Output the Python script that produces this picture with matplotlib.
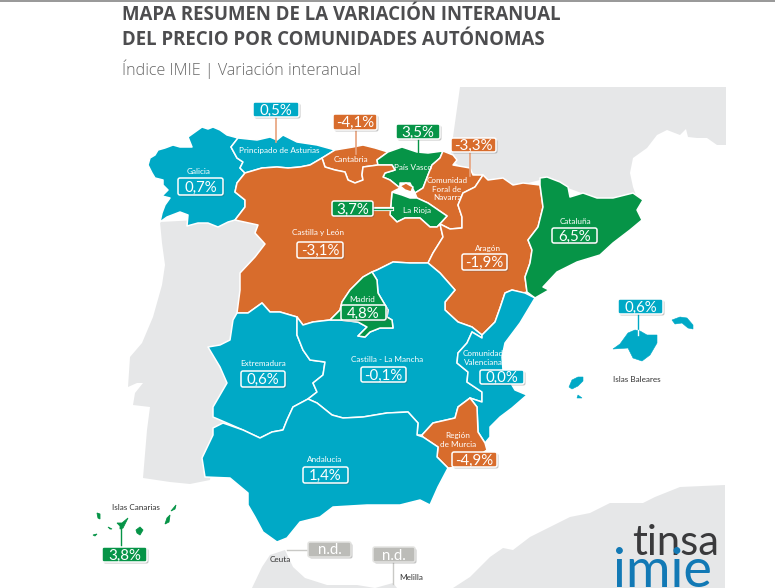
"""
Mapa resumen de la variacion interanual del precio por comunidades autonomas.
Outlines are read off the picture, in image pixels.
"""
import matplotlib
matplotlib.use("Agg")
import matplotlib.pyplot as plt
from matplotlib.patches import FancyBboxPatch, Polygon, Rectangle

# Values per region (None = n.d.)
REGIONS = ["Galicia", "Principado de Asturias", "Cantabria", "País Vasco",
           "Comunidad Foral de Navarra", "La Rioja", "Castilla y León", "Aragón",
           "Cataluña", "Madrid", "Extremadura", "Castilla - La Mancha",
           "Comunidad Valenciana", "Región de Murcia", "Andalucía",
           "Islas Baleares", "Islas Canarias", "Ceuta", "Melilla"]
VALUES = [0.7, 0.5, -4.1, 3.5, -3.3, 3.7, -3.1, -1.9, 6.5, 4.8, 0.6, -0.1,
          0.0, -4.9, 1.4, 0.6, 3.8, None, None]

# Neighbouring land
FRANCE = [(460, 87), (726, 87), (726, 145), (717, 145), (707, 138), (697, 138), (688, 137),
          (686, 129), (680, 135), (667, 130), (657, 135), (647, 148), (633, 158), (630, 173),
          (633, 187), (637, 198), (600, 200), (560, 185), (540, 180), (520, 185), (490, 180),
          (470, 172), (450, 160), (453, 137)]
PORTUGAL = [(160, 222), (162, 243), (165, 265), (162, 285), (153, 317), (142, 343), (130, 357),
            (128, 387), (137, 383), (143, 383), (135, 393), (133, 405), (150, 407), (147, 430),
            (143, 478), (170, 482), (190, 484), (210, 480), (215, 440), (240, 400), (240, 300),
            (265, 244), (258, 225), (235, 218)]
AFRICA = [(252, 588), (262, 567), (270, 555), (285, 550), (293, 567), (305, 578), (327, 585),
          (357, 585), (375, 588), (393, 583), (397, 588), (453, 588), (470, 577), (490, 557),
          (503, 548), (513, 550), (530, 537), (550, 527), (570, 517), (590, 513), (610, 503),
          (643, 503), (655, 497), (680, 487), (725, 485), (725, 588)]

# Region outlines
GALICIA = [(148, 165), (150, 158), (155, 155), (158, 150), (165, 148), (173, 145), (180, 147),
           (192, 147), (188, 137), (195, 132), (202, 127), (208, 129), (213, 127), (220, 130),
           (227, 135), (238, 138), (231, 147), (237, 158), (243, 162), (240, 168),
           (245, 173), (237, 183), (235, 192), (245, 200), (245, 207), (235, 220), (228, 222),
           (218, 227), (208, 223), (198, 223), (187, 226), (188, 215), (180, 212), (167, 217),
           (160, 222), (162, 213), (165, 205), (170, 198), (162, 196), (168, 190), (163, 185),
           (163, 180), (155, 178), (152, 173)]
ASTURIAS = [(238, 138), (257, 140), (270, 137), (277, 140), (283, 135), (297, 142), (317, 145),
            (335, 150), (322, 158), (310, 165), (300, 167), (288, 168), (277, 167), (262, 168),
            (245, 173), (240, 168), (243, 162), (237, 158), (231, 147)]
CANTABRIA = [(322, 158), (335, 150), (353, 147), (363, 145), (375, 148), (388, 152), (377, 160),
             (378, 165), (363, 167), (362, 175), (363, 180), (355, 183), (348, 180), (345, 172),
             (335, 170), (325, 167)]
PAIS_VASCO = [(377, 160), (388, 152), (402, 147), (417, 152), (428, 153), (443, 151), (440, 158),
              (432, 165), (428, 175), (423, 188), (415, 193), (410, 183), (400, 183), (400, 188),
              (390, 180), (383, 177), (385, 173), (395, 170), (392, 165), (378, 165)]
TREVINO = [(400, 186), (406, 183), (413, 187), (411, 192), (405, 190)]
LA_RIOJA = [(392, 192), (402, 195), (410, 198), (417, 198), (428, 203), (447, 216), (437, 227),
            (430, 227), (420, 218), (405, 218), (397, 222), (390, 215)]
NAVARRA = [(443, 151), (453, 155), (457, 160), (453, 165), (470, 168), (473, 175), (483, 175),
           (475, 187), (463, 193), (458, 205), (462, 217), (462, 228), (450, 229), (440, 224),
           (437, 227), (447, 216), (428, 203), (417, 198), (415, 193), (423, 188), (428, 175),
           (432, 165), (440, 158)]
CASTILLA_LEON = [(245, 173), (262, 168), (277, 167), (288, 168), (300, 167), (310, 165), (322, 158),
                 (325, 167), (335, 170), (345, 172), (348, 180), (355, 183), (363, 180), (362, 175),
                 (363, 167), (378, 165), (392, 165), (395, 170), (385, 173), (383, 177), (390, 180),
                 (400, 188), (392, 192), (390, 215), (397, 222), (405, 218), (420, 218), (430, 227),
                 (437, 227), (440, 224), (443, 237), (433, 253), (428, 263), (410, 263), (393, 262),
                 (377, 270), (372, 272), (363, 277), (350, 290), (342, 302), (340, 310), (330, 320),
                 (313, 322), (303, 325), (297, 317), (280, 312), (270, 312), (262, 303), (248, 313),
                 (237, 313), (240, 290), (240, 273), (255, 257), (265, 244), (255, 233), (258, 225),
                 (235, 220), (245, 207), (245, 200), (235, 192), (237, 183)]
ARAGON = [(483, 175), (488, 180), (503, 178), (513, 185), (523, 183), (540, 185), (543, 207),
          (538, 227), (528, 240), (532, 250), (530, 263), (525, 277), (527, 292), (523, 293),
          (512, 290), (505, 293), (500, 308), (495, 322), (482, 335), (472, 327), (458, 322),
          (445, 310), (445, 302), (455, 290), (440, 273), (428, 263), (433, 253), (443, 237),
          (440, 224), (450, 229), (462, 228), (462, 217), (458, 205), (463, 193), (475, 187)]
CATALUNA = [(540, 178), (547, 177), (560, 182), (568, 187), (570, 197), (583, 193), (597, 198),
            (613, 198), (633, 193), (643, 200), (637, 210), (642, 220), (630, 230), (613, 243),
            (600, 255), (577, 262), (557, 272), (543, 287), (549, 290), (535, 298), (527, 292),
            (525, 277), (530, 263), (532, 250), (528, 240), (538, 227), (543, 207), (540, 185)]
MADRID = [(372, 272), (377, 280), (378, 293), (388, 310), (387, 317), (392, 320), (393, 328),
          (380, 328), (370, 332), (365, 337), (358, 336), (367, 327), (358, 322), (340, 320),
          (330, 320), (340, 310), (342, 302), (350, 290), (363, 277)]
EXTREMADURA = [(237, 313), (248, 313), (262, 303), (270, 312), (280, 312), (297, 317), (297, 335),
               (303, 350), (310, 360), (325, 362), (323, 375), (313, 383), (317, 392), (308, 399),
               (293, 407), (287, 420), (283, 430), (272, 432), (260, 438), (243, 430), (227, 423),
               (213, 417), (213, 407), (227, 383), (220, 367), (208, 347), (220, 345), (230, 340),
               (233, 320)]
CASTILLA_MANCHA = [(297, 317), (303, 325), (313, 322), (330, 320), (340, 320), (358, 322), (367, 327),
                   (358, 336), (365, 337), (370, 332), (380, 328), (393, 328), (392, 320), (387, 317),
                   (388, 310), (378, 293), (377, 280), (372, 272), (377, 270), (393, 262), (410, 263),
                   (428, 263), (440, 273), (455, 290), (445, 302), (445, 310), (458, 322), (472, 327),
                   (482, 335), (482, 338), (472, 332), (467, 343), (458, 353), (457, 363), (468, 372),
                   (467, 382), (482, 392), (482, 402), (470, 398), (458, 407), (455, 418), (433, 423),
                   (422, 435), (417, 435), (418, 423), (408, 412), (387, 413), (363, 417), (343, 418),
                   (332, 415), (317, 403), (308, 399), (317, 392), (313, 383), (323, 375), (325, 362),
                   (310, 360), (303, 350), (297, 335)]
VALENCIA = [(482, 335), (495, 322), (500, 308), (505, 293), (512, 290), (525, 293), (535, 298),
            (520, 323), (505, 343), (502, 357), (503, 370), (515, 390), (527, 395), (512, 408),
            (500, 417), (490, 427), (490, 437), (485, 443), (478, 432), (477, 407), (470, 398),
            (482, 402), (482, 392), (467, 382), (468, 372), (457, 363), (458, 353), (467, 343),
            (472, 332), (482, 338)]
MURCIA = [(470, 398), (458, 407), (455, 418), (433, 423), (422, 435), (423, 437), (438, 447),
          (437, 457), (448, 468), (462, 467), (487, 450), (485, 443), (478, 432), (477, 407)]
ANDALUCIA = [(308, 399), (317, 403), (332, 415), (343, 418), (363, 417), (387, 413), (408, 412),
             (418, 423), (417, 435), (423, 437), (438, 447), (437, 457), (448, 468), (438, 487),
             (430, 505), (420, 500), (400, 505), (367, 505), (333, 507), (320, 517), (300, 522),
             (287, 538), (277, 542), (263, 532), (255, 517), (248, 505), (248, 493), (230, 478),
             (205, 477), (202, 458), (213, 435), (213, 428), (223, 423), (243, 430), (260, 438),
             (272, 432), (283, 430), (287, 420), (293, 407)]
MALLORCA = [(613, 349), (620, 344), (628, 333), (635, 330), (640, 331), (647, 335), (657, 335),
            (657, 343), (650, 355), (642, 361), (633, 358), (628, 348)]
MENORCA = [(672, 320), (680, 317), (687, 318), (693, 325), (693, 329), (688, 328), (682, 323), (675, 324)]
IBIZA = [(569, 387), (572, 380), (578, 377), (583, 377), (583, 381), (578, 386), (572, 389)]
FORMENTERA = [(577, 398), (578, 395), (582, 398)]
LA_PALMA = [(97, 513), (100, 514), (100, 519), (98, 518)]
EL_HIERRO = [(93, 535), (97, 534), (95, 536)]
LA_GOMERA = [(108, 527), (112, 529), (110, 529)]
TENERIFE = [(117, 523), (122, 523), (128, 518), (125, 524), (123, 528), (120, 529), (120, 526)]
GRAN_CANARIA = [(136, 530), (140, 527), (143, 530), (140, 535), (137, 533)]
FUERTEVENTURA = [(165, 524), (167, 518), (170, 515), (169, 522)]
LANZAROTE = [(171, 511), (176, 505), (175, 509)]

TEAL = "#00A9C6"
ORANGE = "#D86C2C"
GREEN = "#069447"
GREY_BOX = "#BCBCB8"
LAND = "#E6E7E8"


def region_color(value):
    if value is None:
        return GREY_BOX
    if value >= 3:
        return GREEN
    if value >= -1:
        return TEAL
    return ORANGE


def fmt(value):
    if value is None:
        return "n.d."
    return f"{value:.1f}%".replace(".", ",")


def value_box(ax, name, x0, y0, x1, y1, edge="white"):
    value = VALUES[REGIONS.index(name)]
    color = region_color(value)
    pad = 2
    shadow = FancyBboxPatch((x0 + pad + 1.5, y0 + pad + 1.5), x1 - x0 - 2 * pad, y1 - y0 - 2 * pad,
                            boxstyle=f"round,pad={pad}", fc="#555555", ec="none", alpha=0.35, zorder=6)
    ax.add_patch(shadow)
    box = FancyBboxPatch((x0 + pad, y0 + pad), x1 - x0 - 2 * pad, y1 - y0 - 2 * pad,
                         boxstyle=f"round,pad={pad}", fc=color, ec=edge, lw=1.1, zorder=7)
    ax.add_patch(box)
    ax.text((x0 + x1) / 2, (y0 + y1) / 2 + 5, fmt(value), color="white", fontsize=10.8,
            family="Lato", ha="center", va="baseline", zorder=8)


def small_label(ax, x, y, text, color="white"):
    ax.text(x, y, text, color=color, fontsize=5.9, family="Lato", ha="center", va="center",
            linespacing=1.2, zorder=5)


plt.rcParams["font.family"] = ["Open Sans", "DejaVu Sans"]
fig = plt.figure(figsize=(7.75, 5.88), dpi=100)
ax = fig.add_axes([0, 0, 1, 1])
ax.set_xlim(0, 775)
ax.set_ylim(588, 0)
ax.axis("off")

# top strip of the page
ax.add_patch(Rectangle((0, 0), 775, 2, fc="#9A9A9A", ec="none"))

for land in [FRANCE, PORTUGAL, AFRICA]:
    ax.add_patch(Polygon(land, closed=True, fc=LAND, ec="none", zorder=1))

outlines = {
    "Galicia": [GALICIA], "Principado de Asturias": [ASTURIAS], "Cantabria": [CANTABRIA],
    "País Vasco": [PAIS_VASCO], "Comunidad Foral de Navarra": [NAVARRA], "La Rioja": [LA_RIOJA],
    "Castilla y León": [CASTILLA_LEON, TREVINO], "Aragón": [ARAGON], "Cataluña": [CATALUNA],
    "Extremadura": [EXTREMADURA], "Castilla - La Mancha": [CASTILLA_MANCHA],
    "Madrid": [MADRID], "Comunidad Valenciana": [VALENCIA], "Región de Murcia": [MURCIA],
    "Andalucía": [ANDALUCIA],
}
for name, shapes in outlines.items():
    color = region_color(VALUES[REGIONS.index(name)])
    for shape in shapes:
        ax.add_patch(Polygon(shape, closed=True, fc=color, ec="white", lw=1.1, joinstyle="round", zorder=3))

for island in [MALLORCA, MENORCA, IBIZA, FORMENTERA]:
    ax.add_patch(Polygon(island, closed=True, fc=TEAL, ec=TEAL, lw=0.4, zorder=3))
for island in [LA_PALMA, EL_HIERRO, LA_GOMERA, TENERIFE, GRAN_CANARIA, FUERTEVENTURA, LANZAROTE]:
    ax.add_patch(Polygon(island, closed=True, fc=GREEN, ec=GREEN, lw=0.6, zorder=3))

# leader lines
SALMON = "#E8A27C"
ax.plot([276, 276], [117, 142], color=SALMON, lw=1.2, zorder=4)
ax.plot([356, 356], [130, 154], color=SALMON, lw=1.2, zorder=4)
ax.plot([418, 418], [139, 160], color=GREEN, lw=1.0, zorder=4)
ax.plot([470, 470], [152, 176], color=SALMON, lw=1.2, zorder=4)
ax.plot([373, 392], [208.5, 208.5], color="white", lw=3, zorder=4)
ax.plot([373, 392], [208.5, 208.5], color=GREEN, lw=1, zorder=4)
ax.plot([121, 121], [528, 548], color=GREEN, lw=1.0, zorder=4)
ax.plot([287, 308], [550, 550], color="#C9C9C6", lw=1.0, zorder=4)
ax.plot([393, 393], [562, 584], color="#C9C9C6", lw=1.0, zorder=4)
ax.plot([638, 638], [314, 333], color=TEAL, lw=1.0, zorder=4)
ax.plot([638, 638], [330, 335], color="white", lw=1.0, zorder=4)

# region names
small_label(ax, 199, 172, "Galicia")
small_label(ax, 279, 150, "Principado de Asturias")
small_label(ax, 351, 159, "Cantabria")
small_label(ax, 413, 167, "País Vasco")
small_label(ax, 447, 189, "Comunidad\nForal de\nNavarra")
small_label(ax, 417, 210, "La Rioja")
small_label(ax, 318, 233, "Castilla y León")
small_label(ax, 488, 248, "Aragón")
small_label(ax, 575, 221, "Cataluña")
small_label(ax, 362, 299, "Madrid")
small_label(ax, 263, 363, "Extremadura")
small_label(ax, 387, 359, "Castilla - La Mancha")
small_label(ax, 483, 358, "Comunidad\nValenciana")
small_label(ax, 458, 440, "Región\nde Murcia")
small_label(ax, 325, 459, "Andalucía")
small_label(ax, 136, 507, "Islas Canarias", color="#333333")
small_label(ax, 637, 379, "Islas Baleares", color="#333333")
small_label(ax, 280, 559, "Ceuta", color="#333333")
small_label(ax, 411, 577, "Melilla", color="#333333")

# value boxes
value_box(ax, "Principado de Asturias", 253, 102, 299, 117)
value_box(ax, "Cantabria", 333, 114, 377, 130)
value_box(ax, "País Vasco", 396, 124, 440, 139)
value_box(ax, "Comunidad Foral de Navarra", 451, 138, 496, 152)
value_box(ax, "La Rioja", 332, 201, 373, 216)
value_box(ax, "Galicia", 178, 178, 223, 195)
value_box(ax, "Castilla y León", 297, 242, 343, 258)
value_box(ax, "Aragón", 462, 254, 507, 270)
value_box(ax, "Cataluña", 552, 228, 597, 243)
value_box(ax, "Madrid", 341, 305, 386, 320)
value_box(ax, "Extremadura", 241, 371, 285, 387)
value_box(ax, "Castilla - La Mancha", 361, 367, 406, 382)
value_box(ax, "Comunidad Valenciana", 480, 370, 524, 384)
value_box(ax, "Región de Murcia", 452, 452, 497, 467)
value_box(ax, "Andalucía", 303, 467, 348, 483)
value_box(ax, "Islas Canarias", 102, 547, 147, 562)
value_box(ax, "Islas Baleares", 618, 299, 663, 314)
value_box(ax, "Ceuta", 308, 542, 351, 557, edge="#E4E4E2")
value_box(ax, "Melilla", 373, 547, 415, 562, edge="#E4E4E2")

# titles
ax.text(122, 15, "MAPA RESUMEN DE LA VARIACIÓN INTERANUAL", color="#4D4D4F", fontsize=13.45,
        fontweight="bold", ha="left", va="center")
ax.text(122, 40, "DEL PRECIO POR COMUNIDADES AUTÓNOMAS", color="#4D4D4F", fontsize=13.45,
        fontweight="bold", ha="left", va="center")
ax.text(122, 69, "Índice IMIE | Variación interanual", color="#666666", fontsize=11.6,
        fontweight="light", ha="left", va="center")

# logo
ax.text(632, 555, "tinsa", color="#3A3A3C", fontsize=30, family="Lato", ha="left",
        va="baseline", zorder=5)
ax.text(613, 587, "imie", color="#1279B5", fontsize=39, family="Lato", ha="left",
        va="baseline", zorder=5)

fig.savefig("out.png", dpi=100)
